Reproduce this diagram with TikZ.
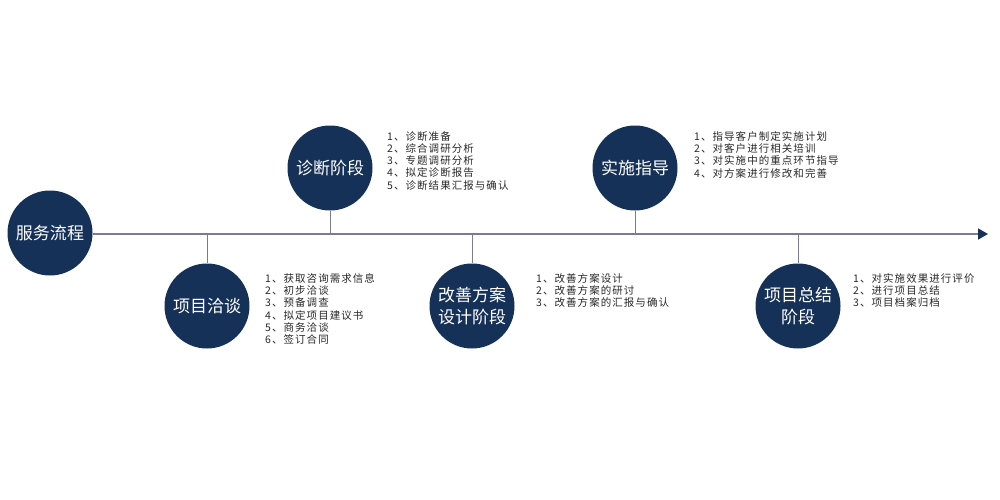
\documentclass[tikz,border=0pt]{standalone}
\usepackage{fontspec}
\newfontfamily\cjk{Noto Sans CJK SC}
\newfontfamily\cjkspaced[LetterSpace=10]{Noto Sans CJK SC}
\usetikzlibrary{arrows.meta}
\definecolor{navy}{RGB}{22,49,88}
\definecolor{linegray}{RGB}{122,122,148}
\definecolor{txtgray}{RGB}{40,40,40}
\tikzset{
  stage/.style={circle, fill=navy, minimum size=85pt, inner sep=0pt, text=white, align=center,
    font=\cjk\fontsize{17}{21.5}\selectfont},
  items/.style={anchor=north west, align=left, inner sep=0pt, text=txtgray,
    font=\cjkspaced\fontsize{10.5}{12.3}\selectfont},
  stem/.style={draw=linegray, line width=1pt},
  axis/.style={draw=linegray, line width=1.4pt, -{Triangle[length=10pt,width=11pt,fill=navy,color=navy]}}
}
\begin{document}
\begin{tikzpicture}[x=1pt,y=-1pt]
\useasboundingbox (0,0) rectangle (1000,500);
\node[stage] (c0) at (50,233) {服务流程};
\coordinate (end) at (988,234);
\draw[axis] (c0.east |- end) -- (end);
\node[stage] (c1) at (207,306) {项目洽谈};
\node[stage] (c2) at (330,168) {诊断阶段};
\node[stage] (c3) at (472,306) {改善方案\\设计阶段};
\node[stage] (c4) at (635,168) {实施指导};
\node[stage] (c5) at (798,306) {项目总结\\阶段};
\draw[stem] (c1.north) -- (c1.north |- end);
\draw[stem] (c2.south) -- (c2.south |- end);
\draw[stem] (c3.north) -- (c3.north |- end);
\draw[stem] (c4.south) -- (c4.south |- end);
\draw[stem] (c5.north) -- (c5.north |- end);
\node[items] (t1) at (265,273) {1、获取咨询需求信息\\2、初步洽谈\\3、预备调查\\4、拟定项目建议书\\5、商务洽谈\\6、签订合同};
\node[items] (t2) at (387,131) {1、诊断准备\\2、综合调研分析\\3、专题调研分析\\4、拟定诊断报告\\5、诊断结果汇报与确认};
\node[items] (t3) at (536,273) {1、改善方案设计\\2、改善方案的研讨\\3、改善方案的汇报与确认};
\node[items] (t4) at (694,131) {1、指导客户制定实施计划\\2、对客户进行相关培训\\3、对实施中的重点环节指导\\4、对方案进行修改和完善};
\node[items] (t5) at (853,273) {1、对实施效果进行评价\\2、进行项目总结\\3、项目档案归档};
\end{tikzpicture}
\end{document}
